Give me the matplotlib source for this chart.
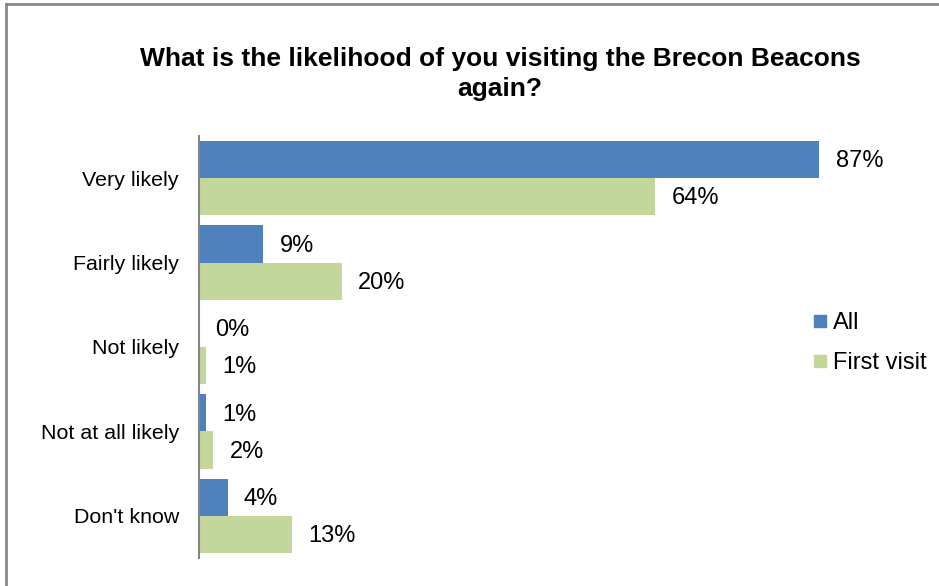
import numpy as np
import matplotlib.pyplot as plt
from matplotlib.lines import Line2D

plt.rcParams['font.family'] = ['Liberation Sans', 'DejaVu Sans']

categories = ['Very likely', 'Fairly likely', 'Not likely', 'Not at all likely', "Don't know"]
series_names = ['All', 'First visit']
all_vals = [87, 9, 0, 1, 4]
first_vals = [64, 20, 1, 2, 13]
colors = ['#4F81BD', '#C3D69B']

W, H = 939, 586
fig = plt.figure(figsize=(W / 100, H / 100), dpi=100)

# axes placed in pixel terms
left, right, top, bottom = 199, 912, 136, 558
ax = fig.add_axes([left / W, 1 - bottom / H, (right - left) / W, (bottom - top) / H])

y = np.arange(len(categories))
bh = 0.44
ax.barh(y - bh / 2, all_vals, height=bh, color=colors[0], label=series_names[0])
ax.barh(y + bh / 2, first_vals, height=bh, color=colors[1], label=series_names[1])

for i in range(len(categories)):
    ax.text(all_vals[i] + 2.3, y[i] - bh / 2 + 0.02, '{}%'.format(all_vals[i]),
            va='center', ha='left', fontsize=17)
    ax.text(first_vals[i] + 2.3, y[i] + bh / 2 + 0.02, '{}%'.format(first_vals[i]),
            va='center', ha='left', fontsize=17)

ax.set_xlim(0, 100)
ax.set_ylim(len(categories) - 0.5, -0.5)
ax.set_yticks(y)
ax.set_yticklabels(categories, fontsize=15.4)
ax.tick_params(axis='y', length=0, pad=14.5)
ax.set_xticks([])
for s in ['top', 'right', 'bottom']:
    ax.spines[s].set_visible(False)
ax.spines['left'].set_color('#868686')
ax.spines['left'].set_linewidth(1.5)

handles = [Line2D([], [], marker='s', ls='', markersize=8.5, color=c) for c in colors]
fig.legend(handles, series_names, loc='upper left', bbox_to_anchor=(805 / W, 1 - 303 / H),
           frameon=False, fontsize=17, handlelength=0.5, handletextpad=0.3,
           labelspacing=0.75, borderaxespad=0)

fig.text(500 / W, 1 - 74 / H, 'What is the likelihood of you visiting the Brecon Beacons\nagain?',
         ha='center', va='center', fontsize=19, fontweight='bold', linespacing=1.32)

# chart frame (only left and top edges fall inside the image)
fig.add_artist(Line2D([6 / W, 6 / W], [0, 1 - 4 / H], color='#888888', lw=2, transform=fig.transFigure))
fig.add_artist(Line2D([6 / W, 1], [1 - 4 / H, 1 - 4 / H], color='#888888', lw=2, transform=fig.transFigure))

fig.savefig('out.png', dpi=100)
